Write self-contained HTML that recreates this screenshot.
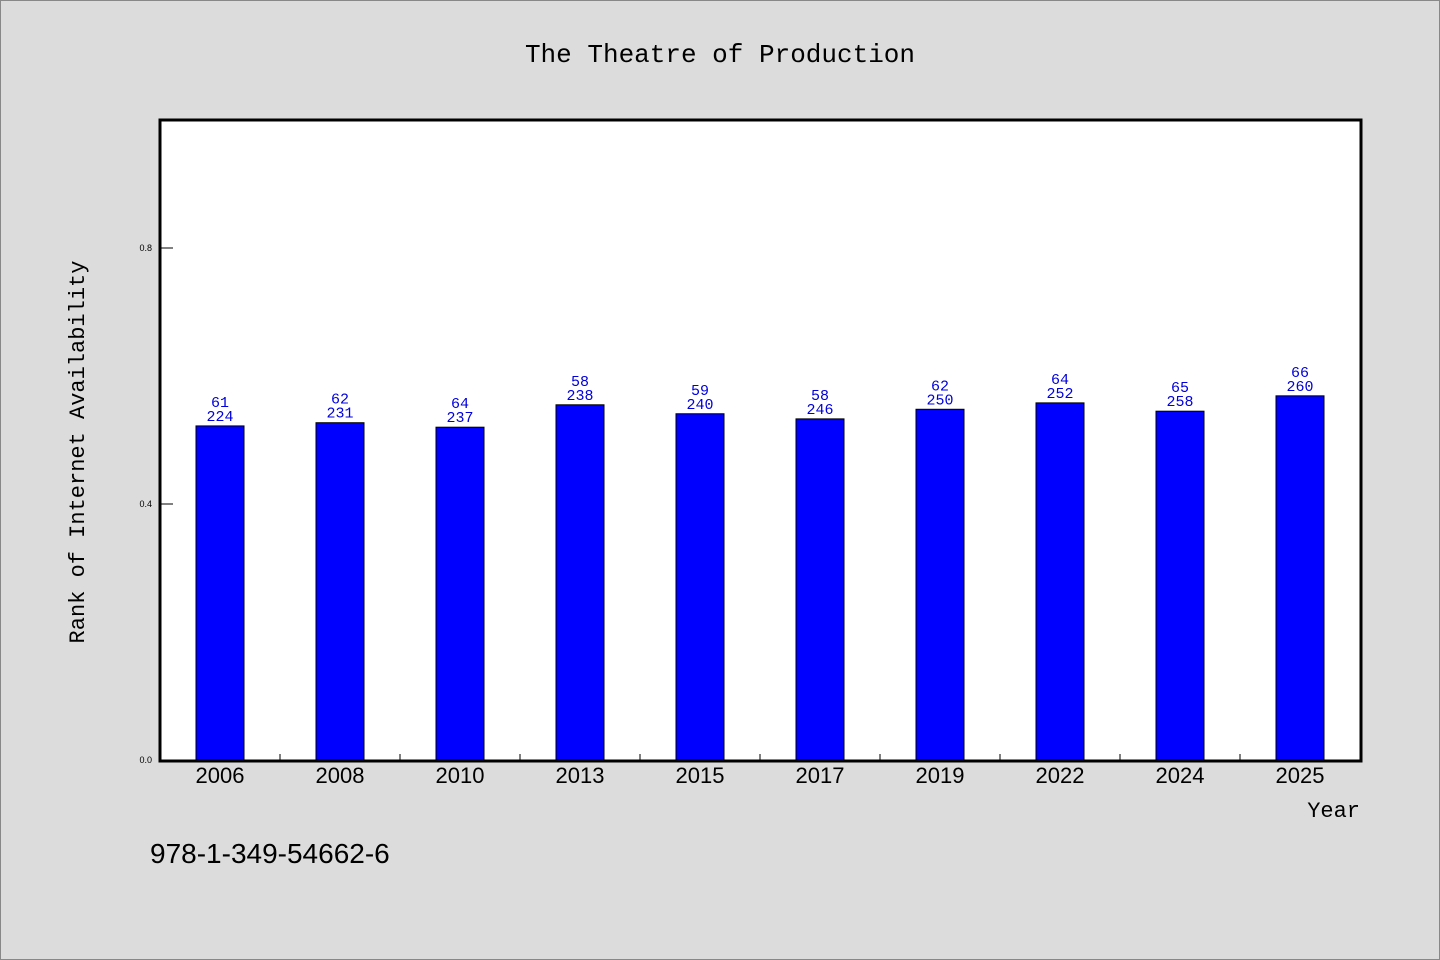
<!DOCTYPE html>
<html><head><meta charset="utf-8"><style>
body{margin:0;background:#dcdcdc;}
svg{display:block;font-family:"Liberation Mono","DejaVu Sans Mono",monospace;}
</style></head><body>
<svg width="1440" height="960" viewBox="0 0 1440 960">
<rect x="0.5" y="0.5" width="1439" height="959" fill="#dcdcdc" stroke="#888"/>
<text x="720" y="62" text-anchor="middle" font-size="26" fill="#000">The Theatre of Production</text>
<rect x="160" y="120" width="1200" height="640" fill="#fff"/>
<g id="bars"></g>
<g id="axes"></g>
<rect x="160" y="120" width="1201" height="641" fill="none" stroke="#000" stroke-width="3"/>
<text transform="translate(84,452) rotate(-90)" text-anchor="middle" font-size="22" fill="#000">Rank of Internet Availability</text>
<text x="1360" y="817" text-anchor="end" font-size="22" fill="#000">Year</text>
<text x="150" y="863" font-family="Liberation Sans, sans-serif" font-size="28" fill="#000">978-1-349-54662-6</text>
</svg>
<script>
const categories=["2006","2008","2010","2013","2015","2017","2019","2022","2024","2025"];
const values=[0.522,0.527,0.520,0.555,0.541,0.533,0.548,0.558,0.545,0.569];
const labelTop=["61","62","64","58","59","58","62","64","65","66"];
const labelBottom=["224","231","237","238","240","246","250","252","258","260"];
const yTicks=[0,0.4,0.8];
const yTickLabels=["0.0","0.4","0.8"];
const NS="http://www.w3.org/2000/svg";
const x0=160,plotW=1200,y0=760,plotH=640,yMax=1;
const band=plotW/categories.length;
const xs=i=>x0+band*(i+0.5);
const ys=v=>y0-v/yMax*plotH;
function mk(t,a,p){const e=document.createElementNS(NS,t);for(const k in a)e.setAttribute(k,a[k]);p.appendChild(e);return e;}
const gb=document.getElementById('bars'),ga=document.getElementById('axes');
categories.forEach((c,i)=>{
  const cx=xs(i),top=ys(values[i]);
  const r=mk('rect',{x:cx-24,y:top,width:48,height:y0-top,fill:'#0000ff',stroke:'#000','stroke-width':1},gb);
  
  
  const t1=mk('text',{x:cx,y:top-19,'text-anchor':'middle','font-size':15,fill:'#0000dd'},gb);t1.textContent=labelTop[i];
  
  
  const t2=mk('text',{x:cx,y:top-5,'text-anchor':'middle','font-size':15,fill:'#0000dd'},gb);t2.textContent=labelBottom[i];
  
  
  const xl=mk('text',{x:cx,y:783,'text-anchor':'middle','font-size':22,'font-family':'Liberation Sans, sans-serif',fill:'#000'},ga);xl.textContent=c;
  
  
  if(i>0){const tk=mk('line',{x1:x0+band*i,x2:x0+band*i,y1:y0,y2:y0-6,stroke:'#000','stroke-width':1},ga);
  
  }
});
yTicks.forEach((v,i)=>{
  const y=ys(v);
  const tk=mk('line',{x1:x0,x2:x0+13,y1:y,y2:y,stroke:'#000','stroke-width':1},ga);
  
  
  const t=mk('text',{x:152,y:y+3,'text-anchor':'end','font-size':9,'font-family':'Liberation Sans, sans-serif',fill:'#000'},ga);t.textContent=yTickLabels[i];
  
  
});
</script>
</body></html>
